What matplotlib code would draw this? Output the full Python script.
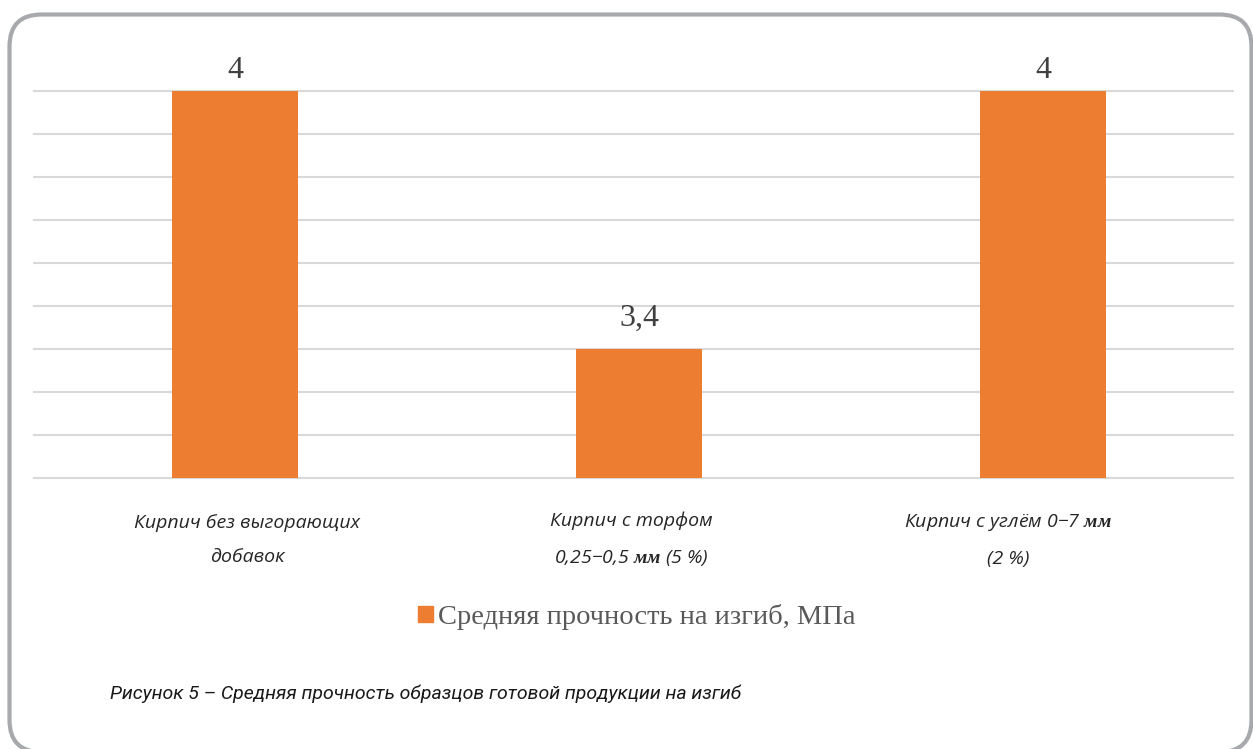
import matplotlib
matplotlib.use("Agg")
import matplotlib.pyplot as plt
from matplotlib.patches import FancyBboxPatch, Patch
from matplotlib.transforms import IdentityTransform, blended_transform_factory

plt.rcParams['mathtext.fontset'] = 'custom'
plt.rcParams['mathtext.bf'] = 'Liberation Serif:italic:bold'
plt.rcParams['mathtext.rm'] = 'Open Sans:italic'

categories = [
    "Кирпич без выгорающих\nдобавок",
    "Кирпич с торфом\n0,25−0,5 $\\mathbf{мм}$ (5 %)",
    "Кирпич с углём 0−7 $\\mathbf{мм}$\n(2 %)",
]
values = [4.0, 3.4, 4.0]
series_name = "Средняя прочность на изгиб, МПа"
caption = "Рисунок 5 – Средняя прочность образцов готовой продукции на изгиб"

W, H = 1253, 749
fig = plt.figure(figsize=(W / 100, H / 100), dpi=100)

# rounded frame around the whole figure (pixel coordinates)
frame = FancyBboxPatch((9.5, -3), 1242, 737.5,
                       boxstyle="round,pad=0,rounding_size=32",
                       transform=IdentityTransform(), fill=False,
                       edgecolor="#a7a9ac", linewidth=3.0)
fig.patches.append(frame)

ax = fig.add_axes([34 / W, (H - 478) / H, 1199 / W, 387 / H])
x = list(range(len(values)))
bars = ax.bar(x, values, width=0.312, color="#ed7d31", zorder=3)

ax.set_xlim(-0.4975, 2.47)
ax.set_ylim(3.1, 4.0)
ax.set_yticks([3.1 + 0.1 * i for i in range(10)])
ax.yaxis.grid(True, color="#d9d9d9", linewidth=1.5)
for gl in ax.get_ygridlines():
    gl.set_clip_on(False)
ax.set_axisbelow(True)
ax.tick_params(left=False, bottom=False, labelleft=False, labelbottom=False)
for s in ax.spines.values():
    s.set_visible(False)

# value labels above the bars
label_pad = [4.5, 12, 4.5]
for rect, v, pad in zip(bars, values, label_pad):
    ax.annotate(f"{v:g}".replace(".", ","),
                (rect.get_x() + rect.get_width() / 2, v),
                xytext=(0, pad), textcoords="offset points",
                ha="center", va="bottom", fontsize=23,
                family="Liberation Serif", color="#404040",
                annotation_clip=False)

# category labels under the axis
label_shift = [0.03, -0.02, -0.087]
trans = blended_transform_factory(ax.transData, fig.transFigure)
for i, (cat, dx) in enumerate(zip(categories, label_shift)):
    fig.text(i + dx, 1 - 540 / H, cat, transform=trans, ha="center",
             va="center", fontsize=14, family="Open Sans", style="italic",
             color="#262626", linespacing=2.2, ma="center")

fig.legend(handles=[Patch(color="#ed7d31")], labels=[series_name],
           loc="center", bbox_to_anchor=(637 / W, 1 - 617 / H),
           frameon=False, prop={"family": "Liberation Serif", "size": 20.5},
           labelcolor="#595959", handlelength=0.5, handleheight=0.5,
           handletextpad=0.2)

fig.text(110 / W, 1 - 694 / H, caption, ha="left", va="center",
         fontsize=14, family="Roboto", style="italic", color="#1a1a1a")

fig.savefig("out.png", dpi=100)
